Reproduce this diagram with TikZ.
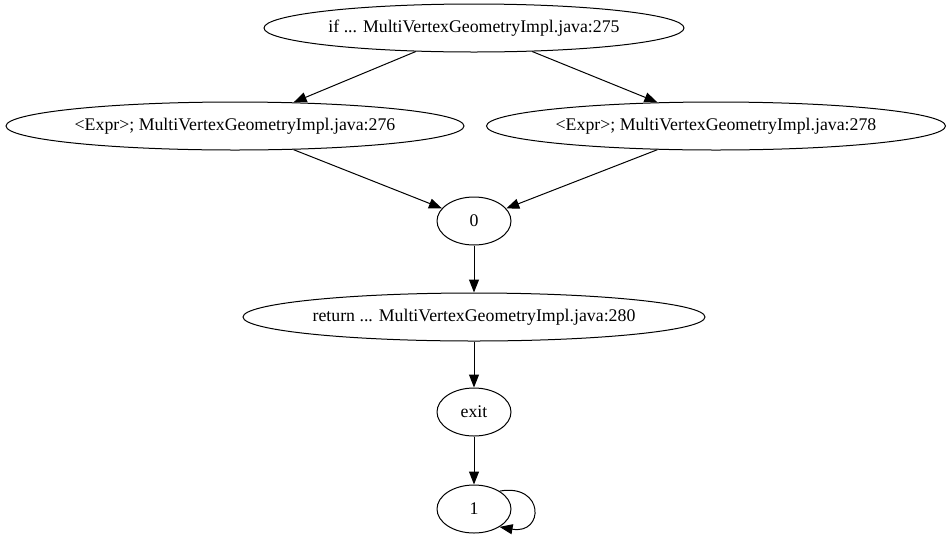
\documentclass[tikz,border=0pt]{standalone}
\usepackage{fontspec}
\setmainfont{Liberation Serif}
\usetikzlibrary{arrows.meta, shapes.geometric}

\begin{document}
\begin{tikzpicture}[x=1pt,y=-1pt]
   \tikzstyle{style} = [ellipse, draw, line width=1pt, minimum height=48pt, inner sep=0pt, text centered, font=\fontsize{17.8}{20}\selectfont]
   \useasboundingbox (0,0) rectangle (950,539);

      \draw
        (474, 28) node[style, minimum width=420pt] (0){if ... MultiVertexGeometryImpl.java:275}
        (235, 126) node[style, minimum width=458pt] (1){<Expr>; MultiVertexGeometryImpl.java:276}
        (716, 126) node[style, minimum width=459pt] (2){<Expr>; MultiVertexGeometryImpl.java:278}
        (474, 221) node[style, minimum width=74pt] (3){0}
        (474, 317) node[style, minimum width=462pt] (4){return ... MultiVertexGeometryImpl.java:280}
        (474, 412) node[style, minimum width=74pt] (5){exit}
        (474, 509) node[style, minimum width=74pt] (6){1};

  \begin{scope}[-{Triangle[length=13pt,width=10pt]}, line width=1pt]
    \draw (0.202) to (1.22);
    \draw (0.338) to (2.158);
    \draw (1.338) to (3);
    \draw (2.202) to (3);
    \draw (3) to (4);
    \draw (4) to (5);
    \draw (5) to (6);
    \draw (6.35) .. controls +(45,-8) and +(45,8) .. (6.-35);
  \end{scope}
\end{tikzpicture}
\end{document}
